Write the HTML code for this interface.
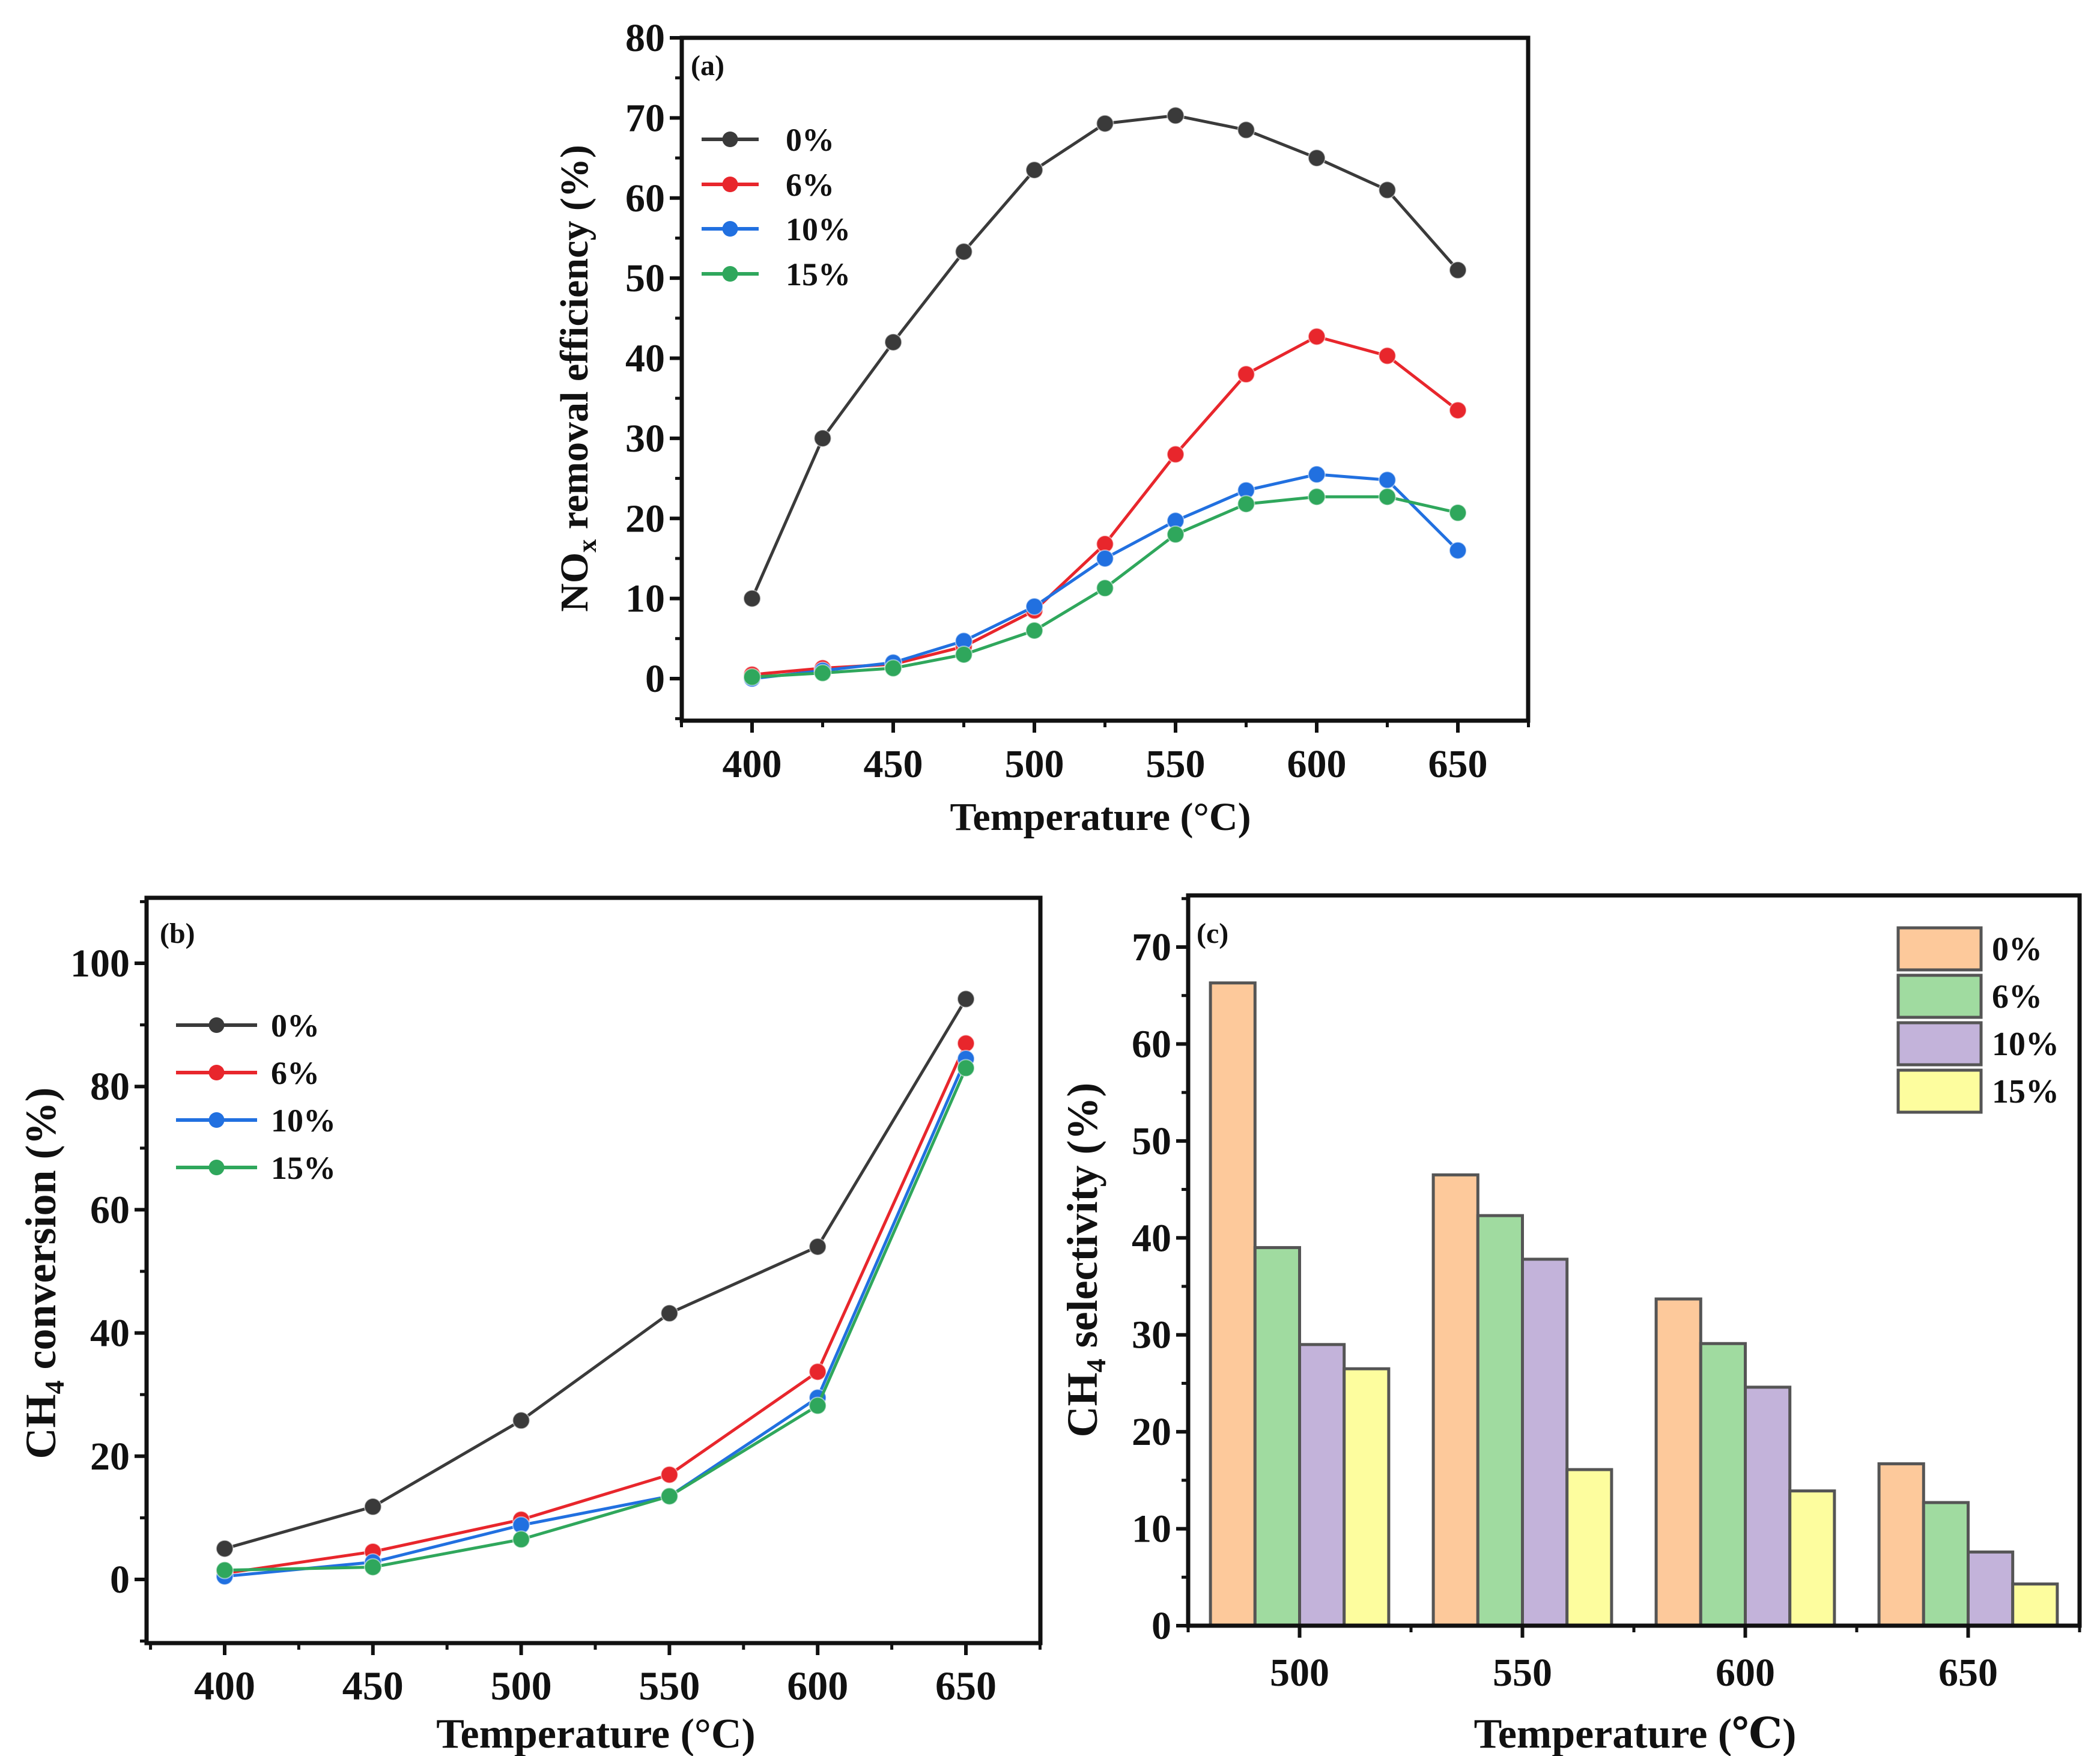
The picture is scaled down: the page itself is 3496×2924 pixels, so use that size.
<!DOCTYPE html>
<html><head><meta charset="utf-8"><style>
html,body{margin:0;padding:0;background:#fff}
svg{display:block}
text{font-family:"Liberation Serif","DejaVu Serif",serif;font-weight:bold;fill:#111}
</style></head><body>
<svg id="fig" width="3496" height="2924" viewBox="0 0 3496 2924" xmlns="http://www.w3.org/2000/svg"></svg>
<script>
const seriesNames = ['0%','6%','10%','15%'];
const lineColors = ['#3a3a3a','#e8262c','#2170e0','#2fa75c'];
const barColors = ['#fdc99b','#a0dba0','#c3b3da','#fdfd9e'];
// panel a
const aTemps = [400,425,450,475,500,525,550,575,600,625,650];
const aS0 = [10,30,42,53.3,63.5,69.3,70.3,68.5,65,61,51];
const aS6 = [0.5,1.3,1.8,4,8.5,16.8,28,38,42.7,40.3,33.5];
const aS10 = [0,1,2,4.7,9,15,19.7,23.5,25.5,24.8,16];
const aS15 = [0.2,0.7,1.3,3,6,11.3,18,21.8,22.7,22.7,20.7];
const aXTicks = [400,450,500,550,600,650];
const aYTicks = [0,10,20,30,40,50,60,70,80];
// panel b
const bTemps = [400,450,500,550,600,650];
const bS0 = [5,11.8,25.8,43.2,54,94.2];
const bS6 = [1,4.5,9.7,17,33.7,87];
const bS10 = [0.5,2.8,8.8,13.5,29.5,84.5];
const bS15 = [1.5,2,6.5,13.5,28.2,83];
const bXTicks = [400,450,500,550,600,650];
const bYTicks = [0,20,40,60,80,100];
// panel c
const cCats = ['500','550','600','650'];
const cS0 = [66.3,46.5,33.7,16.7];
const cS6 = [39,42.3,29.1,12.7];
const cS10 = [29,37.8,24.6,7.6];
const cS15 = [26.5,16.1,13.9,4.3];
const cYTicks = [0,10,20,30,40,50,60,70];

const NS='http://www.w3.org/2000/svg';
const svg=document.getElementById('fig');
function mk(tag,attrs,parent){const e=document.createElementNS(NS,tag);for(const k in attrs)e.setAttribute(k,attrs[k]);(parent||svg).appendChild(e);return e;}
function txt(s,x,y,size,anchor,parent){const t=mk('text',{x:x,y:y,'font-size':size,'text-anchor':anchor||'middle'},parent);t.textContent=s;return t;}
function lin(d0,d1,r0,r1){return v=>r0+(v-d0)*(r1-r0)/(d1-d0);}

function frame(g,L,R,T,B){
  const r=mk('rect',{x:L,y:T,width:R-L,height:B-T,fill:'none',stroke:'#111','stroke-width':7},g);
  
}
function yAxis(g,L,ys,ticks,minorStep,ymin,ymax){
  ticks.forEach(v=>{const y=ys(v);mk('line',{x1:L-20,x2:L,y1:y,y2:y,stroke:'#111','stroke-width':6},g);
    const t=txt(String(v),L-28,y+22,66,'end',g);});
  for(let v=Math.ceil(ymin/minorStep)*minorStep;v<=ymax;v+=minorStep){if(ticks.includes(v))continue;const y=ys(v);mk('line',{x1:L-11,x2:L,y1:y,y2:y,stroke:'#111','stroke-width':5},g);}
}
function lineChart(g,xs,ys,temps,series,sz){
  series.forEach((s,i)=>{
    const sg=mk('g',{},g);
    mk('polyline',{points:temps.map((t,j)=>xs(t)+','+ys(s[j])).join(' '),fill:'none',stroke:lineColors[i],'stroke-width':5},sg);
    temps.forEach((t,j)=>{const c=mk('circle',{cx:xs(t),cy:ys(s[j]),r:sz,fill:lineColors[i],stroke:'#fff','stroke-width':2,'stroke-opacity':0.5},sg);
      });
  });
}
function lineLegend(g,x0,x1,tx,ys,sz){
  seriesNames.forEach((n,i)=>{const lg=mk('g',{},g);
    mk('line',{x1:x0,x2:x1,y1:ys[i],y2:ys[i],stroke:lineColors[i],'stroke-width':6},lg);
    mk('circle',{cx:(x0+x1)/2,cy:ys[i],r:sz,fill:lineColors[i]},lg);
    txt(n,tx,ys[i]+19,54,'start',lg);});
}

// ---- Panel A
(function(){
  const g=mk('g',{});
  const L=1135,R=2544,T=63,B=1200;
  const xs=lin(400,650,1252,2427), ys=lin(0,80,1130,63);
  frame(g,L,R,T,B);
  aXTicks.forEach(v=>{const x=xs(v);mk('line',{x1:x,x2:x,y1:B,y2:B+20,stroke:'#111','stroke-width':6},g);
    const t=txt(String(v),x,B+94,66,'middle',g);});
  [375,425,475,525,575,625,675].forEach(v=>{const x=xs(v);mk('line',{x1:x,x2:x,y1:B,y2:B+11,stroke:'#111','stroke-width':5},g);});
  yAxis(g,L,ys,aYTicks,5,-5,80);
  lineChart(g,xs,ys,aTemps,[aS0,aS6,aS10,aS15],14);
  lineLegend(g,1168,1263,1308,[232,307,381,456],13);
  const p=txt('(a)',1150,125,48,'start',g);
  const xt=txt('Temperature (°C)',1832,1382,66,'middle',g);
  const yt=mk('text',{x:0,y:0,'font-size':66,'text-anchor':'middle',transform:'translate(978,630) rotate(-90)'},g);
  yt.innerHTML='NO<tspan font-size="44" dy="14">x</tspan><tspan dy="-14"> removal efficiency (%)</tspan>';
  
})();

// ---- Panel B
(function(){
  const g=mk('g',{});
  const L=244,R=1732,T=1495,B=2736;
  const xs=lin(400,650,374,1608), ys=lin(0,100,2630,1604);
  frame(g,L,R,T,B);
  bXTicks.forEach(v=>{const x=xs(v);mk('line',{x1:x,x2:x,y1:B,y2:B+20,stroke:'#111','stroke-width':6},g);
    const t=txt(String(v),x,B+94,68,'middle',g);});
  [375,425,475,525,575,625,675].forEach(v=>{const x=xs(v);mk('line',{x1:x,x2:x,y1:B,y2:B+11,stroke:'#111','stroke-width':5},g);});
  yAxis(g,L,ys,bYTicks,10,-10,110);
  lineChart(g,xs,ys,bTemps,[bS0,bS6,bS10,bS15],14);
  lineLegend(g,293,428,451,[1707,1786,1865,1944],13);
  const p=txt('(b)',266,1570,48,'start',g);
  const xt=txt('Temperature (°C)',992,2910,70,'middle',g);
  const yt=mk('text',{x:0,y:0,'font-size':72,'text-anchor':'middle',transform:'translate(92,2120) rotate(-90)'},g);
  yt.innerHTML='CH<tspan font-size="46" dy="14">4</tspan><tspan dy="-14"> conversion (%)</tspan>';
  
})();

// ---- Panel C
(function(){
  const g=mk('g',{});
  const L=1978,R=3462,T=1491,B=2707;
  const ys=lin(0,70,2707,1577);
  const step=(R-L)/cCats.length;
  const cx=i=>L+step*(i+0.5);
  const bw=step*0.8/4;
  [cS0,cS6,cS10,cS15].forEach((s,k)=>{
    s.forEach((v,i)=>{const x=cx(i)-step*0.4+k*bw;
      const r=mk('rect',{x:x,y:ys(v),width:bw,height:ys(0)-ys(v),fill:barColors[k],stroke:'#555','stroke-width':5},g);
      });
  });
  frame(g,L,R,T,B);
  cCats.forEach((c,i)=>{const x=cx(i);mk('line',{x1:x,x2:x,y1:B,y2:B+20,stroke:'#111','stroke-width':6},g);
    const t=txt(c,x,B+100,66,'middle',g);});
  for(let i=0;i<=cCats.length;i++){const x=L+step*i;mk('line',{x1:x,x2:x,y1:B,y2:B+11,stroke:'#111','stroke-width':5},g);}
  yAxis(g,L,ys,cYTicks,5,0,75);
  seriesNames.forEach((n,i)=>{const lg=mk('g',{},g);
    const y=1545+i*79;
    mk('rect',{x:3160,y:y,width:138,height:70,fill:barColors[i],stroke:'#555','stroke-width':5},lg);
    txt(n,3316,y+54,56,'start',lg);});
  const p=txt('(c)',1992,1570,48,'start',g);
  const xt=txt('Temperature (℃)',2722,2910,70,'middle',g);
  const yt=mk('text',{x:0,y:0,'font-size':72,'text-anchor':'middle',transform:'translate(1826,2098) rotate(-90)'},g);
  yt.innerHTML='CH<tspan font-size="46" dy="14">4</tspan><tspan dy="-14"> selectivity (%)</tspan>';
  
})();
</script>
</body></html>
